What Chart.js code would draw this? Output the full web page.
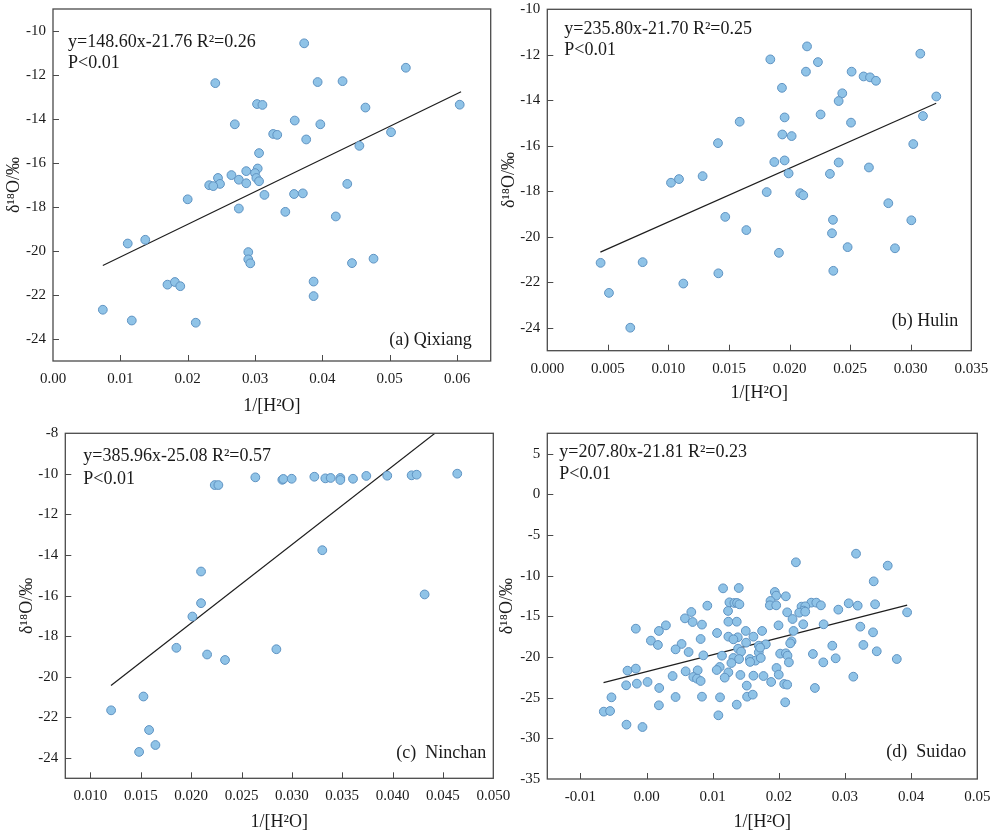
<!DOCTYPE html>
<html>
<head>
<meta charset="utf-8">
<script src="https://cdn.jsdelivr.net/npm/chart.js@4.4.1/dist/chart.umd.min.js"></script>
<style>
  body { margin: 0; background: #fff; }
  #wrap { position: relative; width: 992px; height: 840px; overflow: hidden; }
  canvas { position: absolute; }
</style>
</head>
<body>
<div id="wrap">
  <canvas id="chartA" width="500" height="420" style="left:0;top:0"></canvas>
  <canvas id="chartB" width="502" height="420" style="left:490px;top:0"></canvas>
  <canvas id="chartC" width="520" height="420" style="left:0;top:420px"></canvas>
  <canvas id="chartD" width="496" height="420" style="left:496px;top:420px"></canvas>
</div>
<script>
// δ18O vs 1/[H2O] for four sites

// (a) Qixiang
const qixiangPts = [
  [0.0373,-10.56],[0.0524,-11.67],[0.0241,-12.37],[0.0393,-12.32],[0.0430,-12.28],
  [0.0303,-13.32],[0.0311,-13.36],[0.0604,-13.35],[0.0464,-13.48],[0.0270,-14.24],
  [0.0359,-14.07],[0.0397,-14.24],[0.0327,-14.68],[0.0333,-14.72],[0.0376,-14.93],
  [0.0502,-14.60],[0.0455,-15.22],[0.0306,-15.55],[0.0304,-16.25],[0.0287,-16.37],
  [0.0300,-16.46],[0.0265,-16.55],[0.0245,-16.68],[0.0302,-16.68],[0.0276,-16.76],
  [0.0306,-16.83],[0.0287,-16.92],[0.0248,-16.95],[0.0232,-17.01],[0.0238,-17.05],
  [0.0437,-16.95],[0.0314,-17.45],[0.0358,-17.41],[0.0371,-17.38],[0.0200,-17.65],
  [0.0276,-18.07],[0.0345,-18.22],[0.0420,-18.43],[0.0111,-19.66],[0.0137,-19.49],
  [0.0290,-20.05],[0.0290,-20.38],[0.0293,-20.56],[0.0444,-20.55],[0.0476,-20.35],
  [0.0170,-21.53],[0.0181,-21.41],[0.0189,-21.60],[0.0387,-21.39],[0.0387,-22.05],
  [0.0074,-22.67],[0.0117,-23.16],[0.0212,-23.26]
];
const qixiangFit = [[0.0074,-20.66],[0.0606,-12.76]];
const xTicksA = ['0.00','0.01','0.02','0.03','0.04','0.05','0.06'];
const yTicksA = ['-10','-12','-14','-16','-18','-20','-22','-24'];

// (b) Hulin
const hulinPts = [
  [0.02144,-11.63],[0.01841,-12.20],[0.02234,-12.32],[0.03079,-11.95],[0.02135,-12.74],
  [0.02512,-12.74],[0.02611,-12.95],[0.02664,-12.99],[0.02713,-13.14],[0.01937,-13.45],
  [0.02435,-13.69],[0.02405,-14.03],[0.03211,-13.83],[0.02256,-14.62],[0.01959,-14.75],
  [0.03101,-14.69],[0.01588,-14.94],[0.02507,-14.98],[0.01940,-15.50],[0.02017,-15.57],
  [0.01409,-15.88],[0.03021,-15.92],[0.01874,-16.71],[0.01959,-16.64],[0.02405,-16.73],
  [0.02655,-16.95],[0.01992,-17.21],[0.02333,-17.23],[0.01282,-17.33],[0.01021,-17.62],
  [0.01087,-17.46],[0.01811,-18.03],[0.02088,-18.08],[0.02113,-18.17],[0.02815,-18.52],
  [0.01469,-19.12],[0.02358,-19.25],[0.03005,-19.27],[0.01643,-19.70],[0.02350,-19.84],
  [0.01912,-20.70],[0.02479,-20.45],[0.02870,-20.50],[0.00440,-21.14],[0.00787,-21.11],
  [0.01412,-21.60],[0.02361,-21.49],[0.01123,-22.05],[0.00509,-22.46],[0.00685,-23.99]
];
const hulinFit = [[0.00438,-20.67],[0.0321,-14.13]];
const xTicksB = ['0.000','0.005','0.010','0.015','0.020','0.025','0.030','0.035'];
const yTicksB = ['-10','-12','-14','-16','-18','-20','-22','-24'];

// (c) Ninchan
const ninchanPts = [
  [0.02234,-10.55],[0.02270,-10.55],[0.02637,-10.17],[0.02905,-10.29],[0.02915,-10.25],
  [0.02998,-10.24],[0.03223,-10.14],[0.03332,-10.22],[0.03385,-10.20],[0.03481,-10.20],
  [0.03481,-10.30],[0.03607,-10.24],[0.03739,-10.10],[0.03947,-10.09],[0.04189,-10.07],
  [0.04239,-10.04],[0.04642,-9.99],[0.03302,-13.76],[0.02098,-14.81],[0.02098,-16.37],
  [0.02012,-17.03],[0.04318,-15.94],[0.01853,-18.57],[0.02158,-18.90],[0.02336,-19.17],
  [0.02846,-18.64],[0.01526,-20.97],[0.01205,-21.65],[0.01582,-22.62],[0.01645,-23.36],
  [0.01483,-23.70]
];
const ninchanFit = [[0.01204,-20.43],[0.0442,-8.0]];
const xTicksC = ['0.010','0.015','0.020','0.025','0.030','0.035','0.040','0.045','0.050'];
const yTicksC = ['-8','-10','-12','-14','-16','-18','-20','-22','-24'];

// (d) Suidao
const suidaoPts = [
  [0.03167,-7.30],[0.02258,-8.36],[0.03646,-8.77],[0.03434,-10.70],[0.01157,-11.56],
  [0.01394,-11.52],[0.01939,-12.01],[0.01960,-12.46],[0.02106,-12.54],[0.01874,-13.11],
  [0.01253,-13.28],[0.01328,-13.36],[0.01369,-13.36],[0.01404,-13.52],[0.01864,-13.65],
  [0.01960,-13.65],[0.00919,-13.69],[0.02490,-13.32],[0.02566,-13.32],[0.02636,-13.65],
  [0.03056,-13.40],[0.03192,-13.69],[0.03455,-13.52],[0.02343,-13.81],[0.02399,-13.77],
  [0.02374,-14.30],[0.02308,-14.55],[0.02399,-14.43],[0.02126,-14.51],[0.01232,-14.34],
  [0.00677,-14.47],[0.02899,-14.18],[0.03939,-14.51],[0.02207,-15.33],[0.00581,-15.25],
  [0.00697,-15.70],[0.01237,-15.66],[0.01364,-15.66],[0.00293,-16.11],[0.00838,-16.02],
  [0.01995,-16.11],[0.02369,-15.98],[0.02677,-15.98],[0.03232,-16.27],[-0.00162,-16.52],
  [0.00187,-16.80],[0.01066,-17.05],[0.01500,-16.80],[0.01747,-16.80],[0.03424,-16.97],
  [0.02222,-16.80],[0.01237,-17.50],[0.01379,-17.58],[0.01313,-17.83],[0.01616,-17.50],
  [0.00066,-17.99],[0.00172,-18.52],[0.00530,-18.40],[0.00818,-17.79],[0.01505,-18.24],
  [0.01803,-18.44],[0.01697,-18.61],[0.02192,-18.07],[0.02172,-18.32],[0.02808,-18.61],
  [0.03278,-18.52],[0.00439,-19.06],[0.00636,-19.39],[0.00859,-19.80],[0.01141,-19.84],
  [0.01384,-18.98],[0.01429,-19.34],[0.01697,-19.43],[0.01717,-18.85],[0.02020,-19.59],
  [0.02106,-19.55],[0.02131,-19.84],[0.03480,-19.30],[0.02515,-19.63],[0.01313,-20.12],
  [0.01399,-20.25],[0.01561,-20.25],[0.01646,-20.45],[0.01727,-20.12],[0.02859,-20.16],
  [0.03783,-20.25],[0.01283,-20.74],[0.01566,-20.61],[0.02152,-20.66],[0.02672,-20.66],
  [0.01106,-21.23],[0.01965,-21.35],[-0.00288,-21.68],[-0.00162,-21.43],[0.00591,-21.76],
  [0.00773,-21.64],[0.01061,-21.60],[0.01237,-21.89],[0.00394,-22.34],[0.00707,-22.46],
  [0.00763,-22.66],[0.00818,-22.95],[0.01182,-22.54],[0.01419,-22.21],[0.01616,-22.30],
  [0.01768,-22.34],[0.01999,-22.17],[0.03126,-22.42],[0.01884,-23.07],[-0.00308,-23.48],
  [-0.00146,-23.28],[0.00015,-23.07],[0.02081,-23.32],[0.02126,-23.40],[0.01515,-23.52],
  [0.00192,-23.81],[0.02545,-23.81],[-0.00530,-24.96],[0.00439,-24.92],[0.00838,-24.88],
  [0.01111,-24.96],[0.01520,-24.88],[0.01606,-24.63],[0.00187,-25.94],[0.01364,-25.86],
  [0.02096,-25.57],[-0.00646,-26.72],[-0.00551,-26.64],[0.01086,-27.17],[-0.00303,-28.32],
  [-0.00061,-28.61]
];
const suidaoFit = [[-0.0065,-23.16],[0.0394,-13.62]];
const xTicksD = ['-0.01','0.00','0.01','0.02','0.03','0.04','0.05'];
const yTicksD = ['5','0','-5','-10','-15','-20','-25','-30','-35'];

const FONT = "'Liberation Serif', 'Times New Roman', serif";
const TEXT = '#1a1a1a';

// frame round the plot area + inward tick marks, drawn from the scales
const framePlugin = {
  id: 'frame',
  afterDatasetsDraw(chart) {
    const { ctx, chartArea: a, scales } = chart;
    ctx.save();
    ctx.strokeStyle = '#4a4a4a';
    ctx.lineWidth = 1.3;
    ctx.strokeRect(a.left, a.top, a.right - a.left, a.bottom - a.top);
    ctx.lineWidth = 1;
    ctx.beginPath();
    scales.x.ticks.forEach(t => {
      const px = Math.round(scales.x.getPixelForValue(t.value)) + 0.5;
      if (px < a.left + 1 || px > a.right - 1) return;
      ctx.moveTo(px, a.bottom);
      ctx.lineTo(px, a.bottom - 6);
    });
    scales.y.ticks.forEach(t => {
      const py = Math.round(scales.y.getPixelForValue(t.value)) + 0.5;
      if (py < a.top + 1 || py > a.bottom - 1) return;
      ctx.moveTo(a.left, py);
      ctx.lineTo(a.left + 6, py);
    });
    ctx.stroke();
    ctx.restore();
  }
};

// equation, p-value and panel name inside the plot
const notePlugin = {
  id: 'note',
  afterDraw(chart, args, o) {
    const { ctx, chartArea: a } = chart;
    ctx.save();
    ctx.fillStyle = TEXT;
    ctx.font = '18px ' + FONT;
    ctx.textBaseline = 'middle';
    ctx.textAlign = 'left';
    ctx.fillText(o.eq, a.left + o.eqDx, a.top + o.eqDy);
    ctx.fillText('P<0.01', a.left + o.eqDx, a.top + o.pDy);
    ctx.textAlign = 'right';
    ctx.fillText(o.label, a.right - o.labDx, a.bottom - o.labDy);
    ctx.restore();
  }
};

function makePanel(id, pts, fit, xTicks, yTicks, box, note) {
  const ctx = document.getElementById(id).getContext('2d');
  return new Chart(ctx, {
    type: 'scatter',
    data: {
      datasets: [
        {
          data: pts.map(p => ({ x: p[0], y: p[1] })),
          pointRadius: 4.4,
          pointHoverRadius: 4.4,
          backgroundColor: '#8fc3e7',
          borderColor: '#5f93c2',
          borderWidth: 1
        },
        {
          data: fit.map(p => ({ x: p[0], y: p[1] })),
          showLine: true,
          pointRadius: 0,
          borderColor: '#1e1e1e',
          borderWidth: 1.2,
          fill: false
        }
      ]
    },
    options: {
      responsive: false,
      animation: false,
      events: [],
      layout: { padding: { top: box.top, right: box.right, bottom: 0, left: 0 } },
      plugins: {
        legend: { display: false },
        tooltip: { enabled: false },
        note: note
      },
      scales: {
        x: {
          type: 'linear',
          min: box.xMin, max: box.xMax,
          grid: { display: false, drawTicks: false },
          border: { display: false },
          afterBuildTicks: s => { s.ticks = xTicks.map(v => ({ value: Number(v) })); },
          afterFit: s => { s.height = box.xh; s.paddingLeft = 0; s.paddingRight = 0; },
          ticks: {
            autoSkip: false, maxRotation: 0, padding: 9, color: TEXT,
            font: { family: FONT, size: 15 },
            callback: (v, i) => xTicks[i]
          },
          title: {
            display: true, text: '1/[H²O]', color: TEXT,
            font: { family: FONT, size: 18, lineHeight: 1 },
            padding: { top: 0, bottom: box.xtPad }
          }
        },
        y: {
          type: 'linear',
          min: box.yMin, max: box.yMax,
          grid: { display: false, drawTicks: false },
          border: { display: false },
          afterBuildTicks: s => { s.ticks = yTicks.map(v => ({ value: Number(v) })); },
          afterFit: s => { s.width = box.yw; s.paddingTop = 0; s.paddingBottom = 0; },
          ticks: {
            autoSkip: false, padding: 7, color: TEXT,
            font: { family: FONT, size: 15 },
            callback: (v, i) => yTicks[i]
          },
          title: {
            display: true, text: 'δ¹⁸O/‰', color: TEXT,
            font: { family: FONT, size: 18, lineHeight: 1 },
            padding: { top: box.ytPad, bottom: 0 }
          }
        }
      }
    },
    plugins: [framePlugin, notePlugin]
  });
}

makePanel('chartA', qixiangPts, qixiangFit, xTicksA, yTicksA,
  { top: 9, right: 9.3, yw: 53, xh: 59, xMin: 0, xMax: 0.065, yMin: -25, yMax: -9, xtPad: 5, ytPad: 5 },
  { eq: 'y=148.60x-21.76 R²=0.26', eqDx: 15, eqDy: 33, pDy: 54, label: '(a) Qixiang', labDx: 19, labDy: 21 });

makePanel('chartB', hulinPts, hulinFit, xTicksB, yTicksB,
  { top: 9.3, right: 20.7, yw: 57.3, xh: 69.3, xMin: 0, xMax: 0.035, yMin: -25, yMax: -10, xtPad: 18, ytPad: 10 },
  { eq: 'y=235.80x-21.70 R²=0.25', eqDx: 17, eqDy: 20, pDy: 41, label: '(b) Hulin', labDx: 13, labDy: 29 });

makePanel('chartC', ninchanPts, ninchanFit, xTicksC, yTicksC,
  { top: 13.3, right: 26.7, yw: 65.3, xh: 61.7, xMin: 0.0075, xMax: 0.05, yMin: -25, yMax: -8, xtPad: 9, ytPad: 18 },
  { eq: 'y=385.96x-25.08 R²=0.57', eqDx: 18, eqDy: 23, pDy: 46, label: '(c)  Ninchan', labDx: 7, labDy: 25 });

makePanel('chartD', suidaoPts, suidaoFit, xTicksD, yTicksD,
  { top: 13.3, right: 14.7, yw: 51.3, xh: 61, xMin: -0.015, xMax: 0.05, yMin: -35, yMax: 7.5, xtPad: 9, ytPad: 2 },
  { eq: 'y=207.80x-21.81 R²=0.23', eqDx: 12, eqDy: 19, pDy: 41, label: '(d)  Suidao', labDx: 11, labDy: 27 });
</script>
</body>
</html>
